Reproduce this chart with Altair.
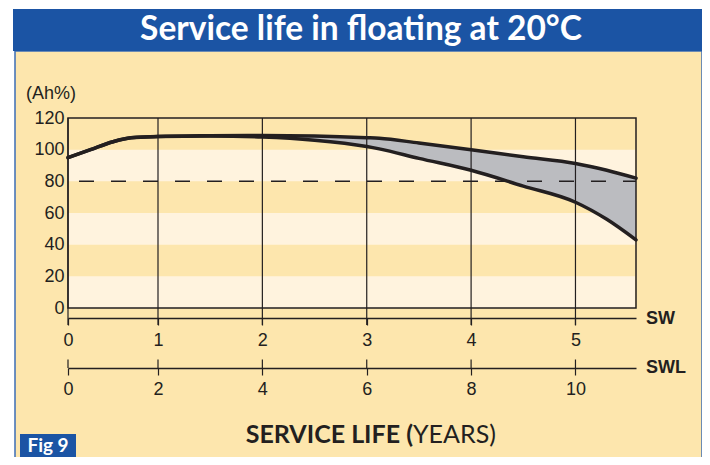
import altair as alt
import pandas as pd

# ---------------- data ----------------
sw_x = [0, 0.25, 0.5, 0.7, 1, 1.5, 2, 2.5, 3, 3.12, 3.5, 4, 4.5, 5, 5.3, 5.58]
upper = [95, 100, 105, 107.5, 108.3, 108.8, 109, 108.7, 107.6, 107.2, 104.2, 100, 95.5, 91.3, 87, 82]
lower = [95, 100, 105, 107.5, 108.3, 108.6, 108, 106, 102, 100.5, 94.5, 87, 77, 66.8, 56, 43]

sw_ticks = [0, 1, 2, 3, 4, 5]
swl_ticks = [0, 2, 4, 6, 8, 10]
y_ticks = [0, 20, 40, 60, 80, 100, 120]
band_lo = [0, 40, 80]
band_hi = [20, 60, 100]
threshold = [80]

sw_domain = [0, 1, 5.58]
swl_domain = [0, 2, 11.16]

title_text = "Service life in floating at 20°C"
y_unit = "(Ah%)"
sw_name = "SW"
swl_name = "SWL"
xtitle_bold = "SERVICE LIFE ("
xtitle_regular = "YEARS)"
fig_label = "Fig 9"

# ---------------- styles ----------------
W, H = 568, 190
BLUE = "#1b54a4"
PANEL = "#fde6ad"
LIGHT = "#fff3de"
GRAY = "#bbbcc0"
DARK = "#231f20"
SANS = "Liberation Sans"
GILL = "Lato"

curve_df = pd.DataFrame({"sw": sw_x, "upper": upper, "lower": lower})
tick_df = pd.DataFrame({"sw": sw_ticks})
swl_df = pd.DataFrame({"swl": swl_ticks})
band_df = pd.DataFrame({"lo": band_lo, "hi": band_hi})
thr_df = pd.DataFrame({"thr": threshold})
one = alt.InlineData(values=[{"k": 1}])

sw_scale = alt.Scale(domain=sw_domain, range=[0, 90, W], nice=False, zero=False)
swl_scale = alt.Scale(domain=swl_domain, range=[0, 90, W], nice=False, zero=False)
y_scale = alt.Scale(domain=[0, 120], nice=False, zero=False)

sw_axis = alt.Axis(orient="bottom", offset=10, values=sw_ticks, format="d", title=None,
                   grid=False, domain=True, domainColor=DARK, domainWidth=1.5,
                   ticks=True, tickSize=7, tickColor=DARK, tickWidth=1.2,
                   labelFont=SANS, labelFontSize=18, labelColor=DARK, labelPadding=6,
                   labelFlush=False, labelOverlap=False, zindex=5)
swl_axis = alt.Axis(orient="bottom", offset=60, values=swl_ticks, format="d", title=None,
                    grid=False, domain=True, domainColor=DARK, domainWidth=1.5,
                    ticks=True, tickSize=7, tickColor=DARK, tickWidth=1.2,
                    labelFont=SANS, labelFontSize=18, labelColor=DARK, labelPadding=5,
                    labelFlush=False, labelOverlap=False, zindex=5)
y_axis = alt.Axis(orient="left", values=y_ticks, format="d", title=None, grid=False,
                  domain=False, ticks=False, tickSize=0, labelPadding=4,
                  labelFont=SANS, labelFontSize=18, labelColor=DARK,
                  labelOverlap=False, labelFlush=False, zindex=5)

xsw = alt.X("sw:Q", scale=sw_scale, axis=sw_axis)

panel = alt.Chart(one).mark_rect(fill=PANEL, stroke="#3d6db5", strokeWidth=1.5).encode(
    x=alt.value(-53), x2=alt.value(634), y=alt.value(-67), y2=alt.value(400))
bar = alt.Chart(one).mark_rect(fill=BLUE).encode(
    x=alt.value(-55), x2=alt.value(634), y=alt.value(-109), y2=alt.value(-67))
title = alt.Chart(one).mark_text(text=title_text, font=GILL, fontSize=33.5, fontWeight="bold",
                                 color="white", align="center", baseline="middle").encode(
    x=alt.value(293), y=alt.value(-88))

bands = alt.Chart(band_df).mark_rect(fill=LIGHT).encode(
    x=alt.value(0), x2=alt.value(567),
    y=alt.Y("lo:Q", scale=y_scale, axis=y_axis), y2="hi:Q")

area = alt.Chart(curve_df).mark_area(color=GRAY, interpolate="monotone").encode(
    x=xsw, y=alt.Y("upper:Q", scale=y_scale, axis=y_axis), y2="lower:Q")

dashed = alt.Chart(thr_df).mark_rule(color=DARK, strokeWidth=1.5, strokeDash=[15, 17],
                                     strokeDashOffset=21).encode(
    y=alt.Y("thr:Q", scale=y_scale, axis=y_axis), x=alt.value(0), x2=alt.value(W))

grid = alt.Chart(tick_df).mark_rule(color=DARK, strokeWidth=1.2).encode(
    x=xsw, y=alt.value(0), y2=alt.value(207))

frame = alt.Chart(one).mark_rect(fill="transparent", stroke=DARK, strokeWidth=1.5).encode(
    x=alt.value(0), x2=alt.value(W), y=alt.value(0), y2=alt.value(H))

line_up = alt.Chart(curve_df).mark_line(color=DARK, strokeWidth=3.5, interpolate="monotone",
                                        strokeCap="round").encode(
    x=xsw, y=alt.Y("upper:Q", scale=y_scale, axis=y_axis))
line_lo = alt.Chart(curve_df).mark_line(color=DARK, strokeWidth=3.5, interpolate="monotone",
                                        strokeCap="round").encode(
    x=xsw, y=alt.Y("lower:Q", scale=y_scale, axis=y_axis))

unit = alt.Chart(one).mark_text(text=y_unit, font=SANS, fontSize=18, color=DARK,
                                align="center", baseline="middle").encode(
    x=alt.value(-17), y=alt.value(-24))
sw_t = alt.Chart(one).mark_text(text=sw_name, font=SANS, fontSize=18, fontWeight="bold",
                                color=DARK, align="left", baseline="middle").encode(
    x=alt.value(578), y=alt.value(200.5))
swl_t = alt.Chart(one).mark_text(text=swl_name, font=SANS, fontSize=18, fontWeight="bold",
                                 color=DARK, align="left", baseline="middle").encode(
    x=alt.value(578), y=alt.value(249.5))
xt_b = alt.Chart(one).mark_text(text=xtitle_bold, font=GILL, fontSize=25, fontWeight="bold",
                                color=DARK, align="right", baseline="middle").encode(
    x=alt.value(345), y=alt.value(317))
xt_r = alt.Chart(one).mark_text(text=xtitle_regular, font=GILL, fontSize=25,
                                color=DARK, align="left", baseline="middle").encode(
    x=alt.value(345), y=alt.value(317))
figbox = alt.Chart(one).mark_rect(fill=BLUE).encode(
    x=alt.value(-48), x2=alt.value(8), y=alt.value(316), y2=alt.value(360))
figtxt = alt.Chart(one).mark_text(text=fig_label, font=GILL, fontSize=19, fontWeight="bold",
                                  color="white", align="center", baseline="middle").encode(
    x=alt.value(-20), y=alt.value(327.5))

inner = alt.layer(panel, bar, title, bands, area, dashed, grid, frame, line_up, line_lo,
                  unit, sw_t, swl_t, xt_b, xt_r, figbox, figtxt)

swl_rules = alt.Chart(swl_df).mark_rule(color=DARK, strokeWidth=1.2).encode(
    x=alt.X("swl:Q", scale=swl_scale, axis=swl_axis), y=alt.value(241.5), y2=alt.value(250))

chart = alt.layer(inner, swl_rules).resolve_scale(x="independent").properties(
    width=W, height=H,
    padding={"left": 60, "top": 110, "right": 66, "bottom": 149},
    autosize=alt.AutoSizeParams(type="none"),
).configure(background="white").configure_view(strokeWidth=0)

chart.save("out.html", embed_options={"renderer": "svg", "actions": False})
